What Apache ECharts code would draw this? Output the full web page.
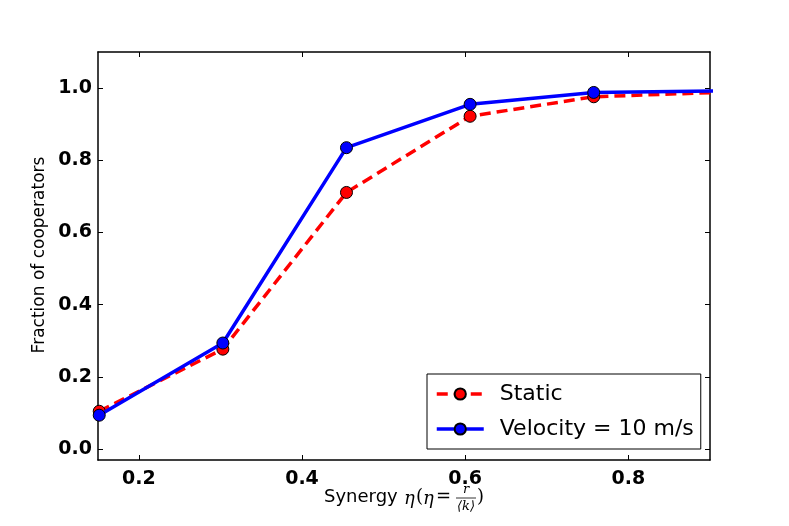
<!DOCTYPE html>
<html>
<head>
<meta charset="utf-8">
<script src="https://cdn.jsdelivr.net/npm/echarts@6/dist/echarts.min.js"></script>
<style>
  html, body { margin: 0; padding: 0; background: #fff; }
  #chart { width: 789px; height: 526px; }
</style>
</head>
<body>
<div id="chart"></div>
<script>
// synergy values (x), last one sits just past the axis end
var synergy = [0.1515, 0.303, 0.4545, 0.606, 0.7575, 0.909];
var staticVals = [0.105, 0.277, 0.711, 0.922, 0.976, 0.988];
var velocityVals = [0.094, 0.294, 0.835, 0.955, 0.988, 0.992];
var xTicks = [0.2, 0.4, 0.6, 0.8];
var yTicks = [0.0, 0.2, 0.4, 0.6, 0.8, 1.0];

function pairs(xs, ys) {
  return xs.map(function (x, i) { return [x, ys[i]]; });
}

var tickFont = { fontFamily: 'DejaVu Sans', fontWeight: 'bold', fontSize: 19, color: '#000' };
var axisLine = { show: true, onZero: false, lineStyle: { color: '#000', width: 1.5 } };
var tick = { show: true, inside: true, length: 5, lineStyle: { color: '#000', width: 1 } };

function xAxis(pos, showLabel) {
  return {
    type: 'value', position: pos, min: 0.15, max: 0.9,
    axisLine: axisLine,
    axisTick: Object.assign({ customValues: xTicks }, tick),
    axisLabel: Object.assign({ show: showLabel, customValues: xTicks, margin: 10,
      formatter: function (v) { return v.toFixed(1); } }, tickFont),
    splitLine: { show: false }
  };
}
function yAxis(pos, showLabel) {
  return {
    type: 'value', position: pos, min: -0.03, max: 1.1,
    axisLine: axisLine,
    axisTick: Object.assign({ customValues: yTicks }, tick),
    axisLabel: Object.assign({ show: showLabel, customValues: yTicks, margin: 6,
      formatter: function (v) { return v.toFixed(1); } }, tickFont),
    splitLine: { show: false }
  };
}

function txt(x, y, s, font, align) {
  return { type: 'text', x: x, y: y,
    style: { text: s, font: font, fill: '#000', align: align || 'left', verticalAlign: 'middle' } };
}

var chart = echarts.init(document.getElementById('chart'));
chart.setOption({
  animation: false,
  backgroundColor: '#fff',
  grid: { left: 98, right: 79, top: 52, bottom: 66 },
  xAxis: [xAxis('bottom', true), xAxis('top', false)],
  yAxis: [yAxis('left', true), yAxis('right', false)],
  legend: {
    orient: 'vertical',
    left: 427, top: 374,
    itemWidth: 47, itemHeight: 14, itemGap: 13,
    padding: [9, 7, 9, 8],
    borderColor: '#000', borderWidth: 1,
    backgroundColor: '#fff',
    lineStyle: { width: 3.5 },
    textStyle: { fontFamily: 'DejaVu Sans', fontSize: 22, color: '#000', padding: [0, 0, 0, 11] },
    data: ['Static', 'Velocity = 10 m/s']
  },
  graphic: [
    {
      type: 'text', rotation: Math.PI / 2, x: 40, y: 255,
      style: { text: 'Fraction of cooperators', font: '17px "DejaVu Sans"', fill: '#000',
        align: 'center', verticalAlign: 'middle' }
    },
    txt(324, 497, 'Synergy', '18px "DejaVu Sans"'),
    txt(404, 499, 'η', 'italic 18px "DejaVu Serif"'),
    txt(416, 497, '(', '18px "DejaVu Serif"'),
    txt(423, 499, 'η', 'italic 18px "DejaVu Serif"'),
    txt(436, 497, '=', '18px "DejaVu Serif"'),
    txt(466, 490, 'r', 'italic 13px "DejaVu Serif"', 'center'),
    { type: 'line', shape: { x1: 456, y1: 498, x2: 476, y2: 498 }, style: { stroke: '#000', lineWidth: 0.8 } },
    txt(466, 507, '⟨k⟩', 'italic 13px "DejaVu Serif"', 'center'),
    txt(477, 497, ')', '18px "DejaVu Serif"')
  ],
  series: [
    {
      name: 'Static', type: 'line', data: pairs(synergy, staticVals),
      clip: true, symbol: 'circle', symbolSize: 12,
      lineStyle: { color: '#ff0000', width: 3.5, type: [11, 6] },
      itemStyle: { color: '#ff0000', borderColor: '#000', borderWidth: 1 },
      z: 2
    },
    {
      name: 'Velocity = 10 m/s', type: 'line', data: pairs(synergy, velocityVals),
      clip: true, symbol: 'circle', symbolSize: 12,
      lineStyle: { color: '#0000ff', width: 3.5 },
      itemStyle: { color: '#0000ff', borderColor: '#000', borderWidth: 1 },
      z: 3
    }
  ]
});
</script>
</body>
</html>
